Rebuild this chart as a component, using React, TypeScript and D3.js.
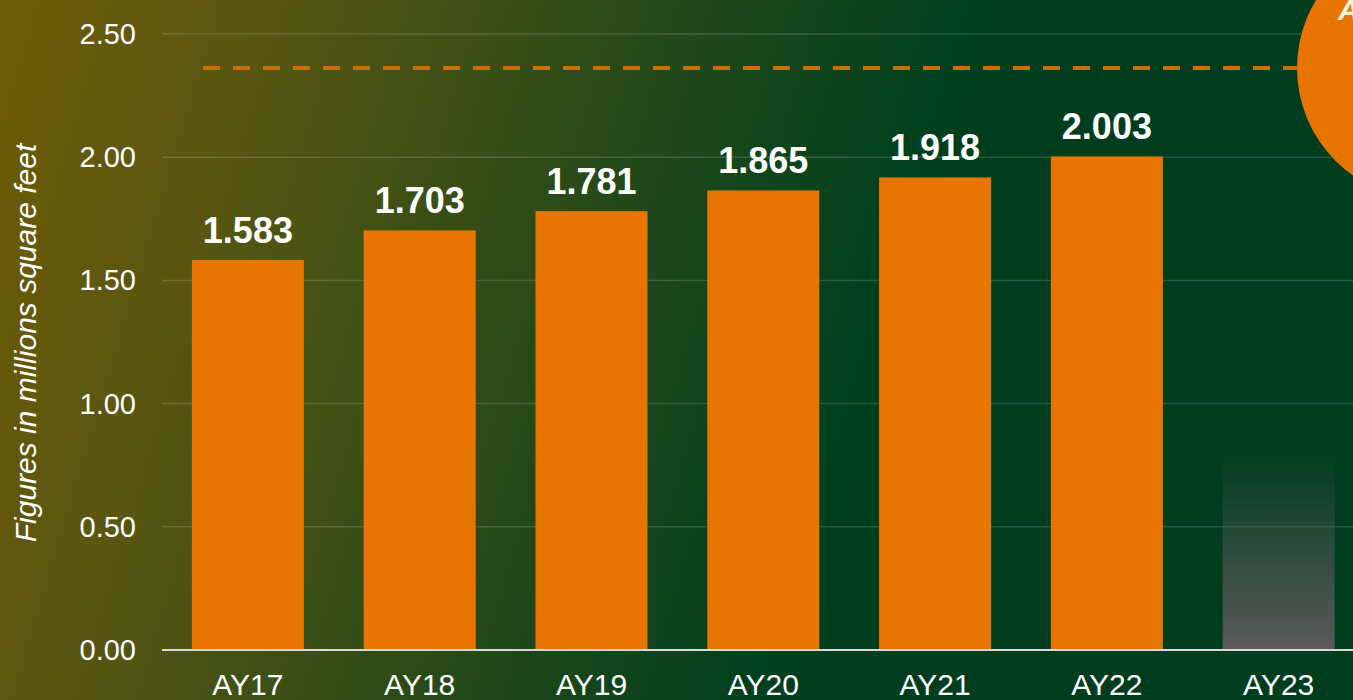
import React from "react";
import * as d3 from "d3";

const categories = ["AY17", "AY18", "AY19", "AY20", "AY21", "AY22", "AY23"];
const values = [1.583, 1.703, 1.781, 1.865, 1.918, 2.003, null];
const ghostValue = 0.8; // faded placeholder bar for AY23
const targetValue = 2.362;
const yTicks = [0, 0.5, 1.0, 1.5, 2.0, 2.5];
const yLabel = "Figures in millions square feet";
const circleText = "A";

const W = 1353;
const H = 700;
const plotLeft = 162;
const plotRight = 162 + 7 * 171.8;
const yBottom = 650;
const yTop = 34;

export default function App() {
  const x = d3
    .scaleBand<string>()
    .domain(categories)
    .range([plotLeft, plotRight])
    .paddingInner(0.348)
    .paddingOuter(0.174);
  const y = d3.scaleLinear().domain([0, 2.5]).range([yBottom, yTop]);
  const fmt = d3.format(".2f");
  const bw = x.bandwidth();
  const ty = y(targetValue);
  const cx = 1428;
  const r = 131;

  return (
    <div style={{ position: "fixed", left: 0, top: 0, width: W, height: H, overflow: "hidden" }}>
      <svg width={W} height={H} style={{ display: "block", fontFamily: "Liberation Sans, Arial, sans-serif" }}>
        <defs>
          <linearGradient id="bg" gradientUnits="userSpaceOnUse" x1={0} y1={0} x2={1000} y2={300}>
            <stop offset="0" stopColor="#6e5b06" />
            <stop offset="0.25" stopColor="#585612" />
            <stop offset="0.5" stopColor="#344d16" />
            <stop offset="0.88" stopColor="#00401e" />
            <stop offset="1" stopColor="#003d1e" />
          </linearGradient>
          <linearGradient id="ghost" x1="0" y1="0" x2="0" y2="1">
            <stop offset="0" stopColor="#5a5a5a" stopOpacity={0} />
            <stop offset="1" stopColor="#5a5a5a" stopOpacity={1} />
          </linearGradient>
        </defs>
        <rect x={0} y={0} width={W} height={H} fill="url(#bg)" />

        {yTicks.map((t) => (
          <g key={t}>
            {t > 0 && (
              <line x1={plotLeft} x2={W} y1={y(t)} y2={y(t)} stroke="#ffffff" strokeOpacity={0.15} strokeWidth={1.5} />
            )}
            <text x={136} y={y(t) + 10} textAnchor="end" fill="#ffffff" fontSize={29}>
              {fmt(t)}
            </text>
          </g>
        ))}

        <text
          transform={`translate(36, 343) rotate(-90)`}
          textAnchor="middle"
          fill="#ffffff"
          fontSize={30}
          fontStyle="italic"
        >
          {yLabel}
        </text>

        {categories.map((c, i) => {
          const v = values[i];
          const bx = x(c)!;
          if (v === null) {
            return (
              <rect key={c} x={bx} y={y(ghostValue)} width={bw} height={yBottom - y(ghostValue)} fill="url(#ghost)" />
            );
          }
          return (
            <g key={c}>
              <rect x={bx} y={y(v)} width={bw} height={yBottom - y(v)} fill="#e77500" />
              <text x={bx + bw / 2} y={y(v) - 17} textAnchor="middle" fill="#ffffff" fontSize={36} fontWeight="bold">
                {d3.format(".3f")(v)}
              </text>
            </g>
          );
        })}

        <line x1={plotLeft} x2={W} y1={yBottom} y2={yBottom} stroke="#d9d9d9" strokeWidth={2} />

        {categories.map((c) => (
          <text key={c} x={x(c)! + bw / 2} y={695} textAnchor="middle" fill="#ffffff" fontSize={30}>
            {c}
          </text>
        ))}

        <line
          x1={203}
          x2={cx - r}
          y1={ty}
          y2={ty}
          stroke="#c87008"
          strokeWidth={4}
          strokeDasharray="17 13"
        />
        <circle cx={cx} cy={ty} r={r} fill="#e77500" />
        <text x={1338} y={20} fill="#fff3e0" fontSize={30} fontWeight="bold" fontStyle="italic">
          {circleText}
        </text>
      </svg>
    </div>
  );
}
